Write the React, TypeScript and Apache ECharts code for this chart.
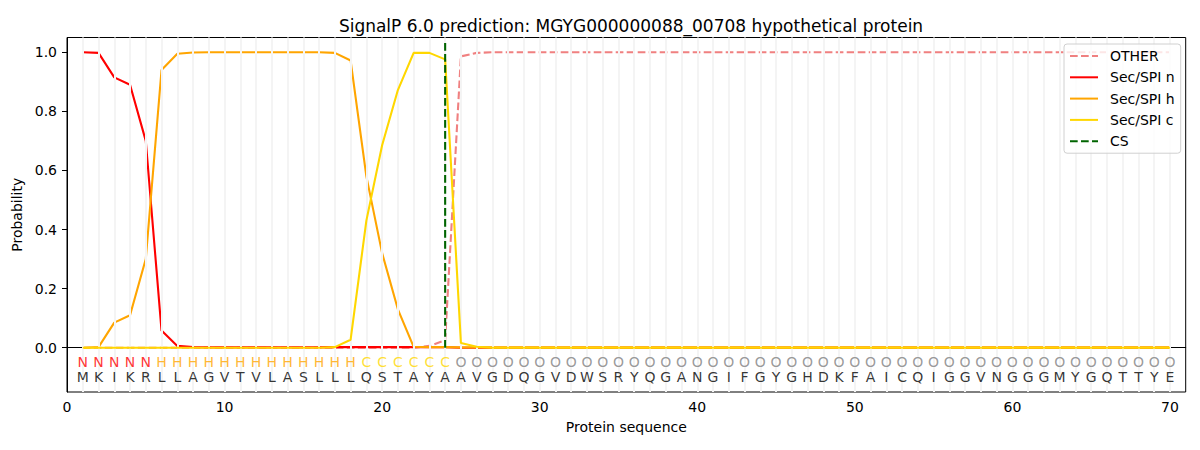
import React, { useEffect, useRef } from "react";
import * as echarts from "echarts";

const sequence = "MKIKRLLAGVTVLASLLLQSTAYAAVGDQGVDWSRYQGANGIFGYGHDKFAICQIGGVNGGGMYGQTTYE".split("");
const regions = "NNNNNHHHHHHHHHHHHHCCCCCCOOOOOOOOOOOOOOOOOOOOOOOOOOOOOOOOOOOOOOOOOOOOOO".split("");
const positions = sequence.map((_, i) => i + 1);

const otherVals = [
  0, 0, 0, 0, 0, 0, 0, 0, 0, 0,
  0, 0, 0, 0, 0, 0, 0, 0, 0, 0,
  0, 0, 0.006, 0.025, 0.986, 0.998, 1, 1, 1, 1,
  1, 1, 1, 1, 1, 1, 1, 1, 1, 1,
  1, 1, 1, 1, 1, 1, 1, 1, 1, 1,
  1, 1, 1, 1, 1, 1, 1, 1, 1, 1,
  1, 1, 1, 1, 1, 1, 1, 1, 1, 1,
];
const nVals = [
  1.0, 0.998, 0.915, 0.89, 0.70, 0.058, 0.006, 0.002, 0.001, 0.001,
  0.001, 0.001, 0.001, 0.001, 0.001, 0.001, 0.002, 0.002, 0.002, 0.002,
  0.002, 0.002, 0.002, 0.002, 0, 0, 0, 0, 0, 0,
  0, 0, 0, 0, 0, 0, 0, 0, 0, 0,
  0, 0, 0, 0, 0, 0, 0, 0, 0, 0,
  0, 0, 0, 0, 0, 0, 0, 0, 0, 0,
  0, 0, 0, 0, 0, 0, 0, 0, 0, 0,
];
const hVals = [
  0, 0.002, 0.085, 0.11, 0.30, 0.94, 0.995, 0.999, 1.0, 1.0,
  1.0, 1.0, 1.0, 1.0, 1.0, 1.0, 0.998, 0.972, 0.58, 0.32,
  0.13, 0.003, 0.002, 0.002, 0.001, 0.001, 0.001, 0.001, 0.001, 0.001,
  0.001, 0.001, 0.001, 0.001, 0.001, 0.001, 0.001, 0.001, 0.001, 0.001,
  0.001, 0.001, 0.001, 0.001, 0.001, 0.001, 0.001, 0.001, 0.001, 0.001,
  0.001, 0.001, 0.001, 0.001, 0.001, 0.001, 0.001, 0.001, 0.001, 0.001,
  0.001, 0.001, 0.001, 0.001, 0.001, 0.001, 0.001, 0.001, 0.001, 0.001,
];
const cVals = [
  0, 0, 0, 0, 0, 0, 0, 0, 0, 0,
  0, 0, 0, 0, 0, 0, 0.002, 0.027, 0.43, 0.685,
  0.872, 0.998, 0.998, 0.976, 0.016, 0.003, 0, 0, 0, 0,
  0, 0, 0, 0, 0, 0, 0, 0, 0, 0,
  0, 0, 0, 0, 0, 0, 0, 0, 0, 0,
  0, 0, 0, 0, 0, 0, 0, 0, 0, 0,
  0, 0, 0, 0, 0, 0, 0, 0, 0, 0,
];
const csPosition = 24;
const csSpan = [0, 1.04];
const yTicks = [0, 0.2, 0.4, 0.6, 0.8, 1.0];
const xTicks = [0, 10, 20, 30, 40, 50, 60, 70];

const regionColors: Record<string, string> = {
  N: "#ff0000",
  H: "#ffa500",
  C: "#ffd700",
  O: "#808080",
};

const FONT = "DejaVu Sans";
const SOLID_ICON = "path://M0,0h28v2h-28z";
const DASH_ICON = "path://M0,0h7.7v2h-7.7zM11,0h7.7v2h-7.7zM22,0h6v2h-6z";

export default function App() {
  const ref = useRef<HTMLDivElement>(null);
  useEffect(() => {
    if (!ref.current) return;
    const chart = echarts.init(ref.current, undefined, { renderer: "svg" });
    const pair = (vals: number[]) => positions.map((p, i) => [p, vals[i]]);
    const lineSeries = (name: string, vals: number[], color: string, dashed = false, z = 2) => ({
      name,
      type: "line",
      data: pair(vals),
      symbol: "none",
      showSymbol: false,
      lineStyle: { color, width: 2.1, type: dashed ? [7.7, 3.3] : "solid" },
      itemStyle: { color },
      z,
      silent: true,
    });
    chart.setOption({
      animation: false,
      backgroundColor: "#ffffff",
      title: {
        text: "SignalP 6.0 prediction: MGYG000000088_00708 hypothetical protein",
        left: 626,
        top: 12,
        textAlign: "center",
        textStyle: { fontFamily: FONT, fontSize: 17, fontWeight: "normal", color: "#000" },
      },
      grid: {
        left: 67,
        right: 14.3,
        top: 37.5,
        bottom: 58,
        show: true,
        borderColor: "#000",
        borderWidth: 1,
        backgroundColor: "transparent",
      },
      legend: {
        orient: "vertical",
        left: 1064,
        top: 44,
        z: 20,
        padding: [5, 6, 5, 6],
        itemGap: 7.3,
        itemWidth: 28,
        itemHeight: 2,
        backgroundColor: "rgba(255,255,255,0.8)",
        borderColor: "#d0d0d0",
        borderWidth: 1,
        borderRadius: 3,
        textStyle: { fontFamily: FONT, fontSize: 14, color: "#000", padding: [0, 0, 0, 7] },
        data: [
          { name: "OTHER", icon: DASH_ICON },
          { name: "Sec/SPI n", icon: SOLID_ICON },
          { name: "Sec/SPI h", icon: SOLID_ICON },
          { name: "Sec/SPI c", icon: SOLID_ICON },
          { name: "CS", icon: DASH_ICON },
        ],
        selectedMode: false,
      },
      xAxis: {
        type: "value",
        min: 0,
        max: 71,
        name: "Protein sequence",
        nameLocation: "middle",
        nameGap: 28,
        nameTextStyle: { fontFamily: FONT, fontSize: 14, color: "#000" },
        axisLine: { show: true, lineStyle: { color: "#000", width: 1 } },
        axisTick: { show: true, length: 5, customValues: xTicks, lineStyle: { color: "#000" } },
        axisLabel: {
          customValues: xTicks,
          fontFamily: FONT,
          fontSize: 14,
          color: "#000",
          margin: 8,
          formatter: (v: number) => String(v),
        },
        splitLine: { show: false },
      },
      yAxis: {
        type: "value",
        min: -0.15,
        max: 1.05,
        name: "Probability",
        nameLocation: "middle",
        nameGap: 37,
        nameTextStyle: { fontFamily: FONT, fontSize: 14, color: "#000" },
        axisLine: { show: true, lineStyle: { color: "#000", width: 1 } },
        axisTick: { show: true, length: 5, customValues: yTicks, lineStyle: { color: "#000" } },
        axisLabel: {
          customValues: yTicks,
          fontFamily: FONT,
          fontSize: 14,
          color: "#000",
          margin: 10,
          formatter: (v: number) => v.toFixed(1),
        },
        splitLine: { show: false },
      },
      series: [
        {
          name: "grid",
          type: "line",
          data: [],
          silent: true,
          z: 1,
          markLine: {
            silent: true,
            symbol: "none",
            animation: false,
            label: { show: false },
            emphasis: { disabled: true },
            lineStyle: { color: "#f4f4f4", width: 2, type: "solid", opacity: 1 },
            data: positions.map((p) => ({ xAxis: p })),
          },
        },
        lineSeries("OTHER", otherVals, "#f08080", true, 2),
        lineSeries("Sec/SPI n", nVals, "#ff0000", false, 3),
        lineSeries("Sec/SPI h", hVals, "#ffa500", false, 4),
        lineSeries("Sec/SPI c", cVals, "#ffd700", false, 5),
        {
          name: "CS",
          type: "line",
          data: csSpan.map((y) => [csPosition, y]),
          symbol: "none",
          lineStyle: { color: "#006400", width: 2.1, type: [7.7, 3.3] },
          itemStyle: { color: "#006400" },
          z: 6,
          silent: true,
        },
        {
          name: "regions",
          type: "scatter",
          silent: true,
          symbolSize: 1,
          itemStyle: { color: "rgba(0,0,0,0)" },
          z: 7,
          data: positions.map((p, i) => ({
            value: [p, -0.05],
            label: { color: regionColors[regions[i]] },
          })),
          label: {
            show: true,
            position: "inside",
            fontFamily: FONT,
            fontSize: 14,
            formatter: (prm: any) => regions[prm.dataIndex],
          },
        },
        {
          name: "residues",
          type: "scatter",
          silent: true,
          symbolSize: 1,
          itemStyle: { color: "rgba(0,0,0,0)" },
          z: 7,
          data: positions.map((p) => [p, -0.1]),
          label: {
            show: true,
            position: "inside",
            fontFamily: FONT,
            fontSize: 14,
            color: "#000",
            formatter: (prm: any) => sequence[prm.dataIndex],
          },
        },
      ],
    });
    return () => chart.dispose();
  }, []);
  return (
    <div
      ref={ref}
      style={{ position: "fixed", left: 0, top: 0, width: 1200, height: 450, background: "#fff" }}
    />
  );
}
